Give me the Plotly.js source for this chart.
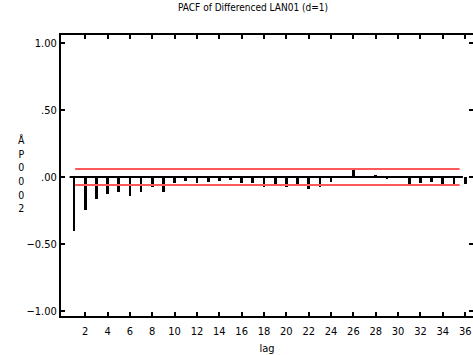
<!DOCTYPE html>
<html>
<head>
<meta charset="utf-8">
<script src="https://cdn.plot.ly/plotly-3.0.1.min.js"></script>
<style>html,body{margin:0;padding:0;background:#fff;}#chart{width:473px;height:355px;}</style>
</head>
<body>
<div id="chart"></div>
<script>
const lags = [1,2,3,4,5,6,7,8,9,10,11,12,13,14,15,16,17,18,19,20,21,22,23,24,25,26,27,28,29,30,31,32,33,34,35,36];
const pacf = [-0.40,-0.245,-0.167,-0.125,-0.115,-0.14,-0.115,-0.072,-0.115,-0.045,-0.03,-0.047,-0.04,-0.03,-0.022,-0.047,-0.047,-0.072,-0.055,-0.072,-0.055,-0.092,-0.072,-0.035,0.0,0.05,0.0,0.012,-0.017,0.0,-0.065,-0.048,-0.035,-0.067,-0.067,-0.05];
const confLimit = 0.06;
const xTickVals = [2,4,6,8,10,12,14,16,18,20,22,24,26,28,30,32,34,36];
const yTickVals = [-1,-0.5,0,0.5,1];
const yTickText = ["\u22121.00","\u22120.50",".00",".50","1.00"];
const titleText = "PACF of Differenced LAN01 (d=1)";
const yTitle = "Å<br>P<br>0<br>0<br>0<br>2";
const xTitle = "lag";

const font = "Liberation Sans Narrow, Arial Narrow, DejaVu Sans Condensed, sans-serif";
const x0 = lags[0] - 0.4, x1 = lags[lags.length-1] - 0.2;
const traces = [
  {type:'scatter', mode:'lines', x:[x0,x1], y:[0,0], line:{color:'#000',width:2}, hoverinfo:'skip'},
  {type:'bar', x:lags, y:pacf, width:0.25, marker:{color:'#000',line:{width:0}}},
  {type:'scatter', mode:'lines', x:[lags[0]+0.1, lags[lags.length-1]-0.5], y:[confLimit,confLimit], line:{color:'#ff5a5a',width:2}},
  {type:'scatter', mode:'lines', x:[lags[0]+0.1, lags[lags.length-1]-0.5], y:[-confLimit,-confLimit], line:{color:'#ff5a5a',width:2}}
];
const layout = {
  width:473, height:355,
  margin:{l:61, r:0, t:35, b:39},
  paper_bgcolor:'#fff', plot_bgcolor:'#fff',
  showlegend:false,
  font:{family:font, size:11, color:'#000'},
  title:{text:titleText, font:{family:font, size:10, color:'#000'}, x:0.535, xanchor:'center', y:0.99, yanchor:'top'},
  xaxis:{range:[-0.166,36.7], tickvals:xTickVals, ticks:'inside', ticklen:4, tickwidth:2, tickcolor:'#000',
         showline:true, linewidth:2, linecolor:'#000', mirror:'ticks', showgrid:false, zeroline:false,
         ticklabelstandoff:4,
         tickfont:{family:font,size:11}, title:{text:xTitle, font:{family:font,size:11}, standoff:7}},
  yaxis:{range:[-1.037,1.06], tickvals:yTickVals, ticktext:yTickText, ticks:'inside', ticklen:4, tickwidth:2, tickcolor:'#000',
         showline:true, linewidth:2, linecolor:'#000', mirror:'ticks', showgrid:false, zeroline:false,
         tickfont:{family:font,size:11}},
  annotations:[{text:yTitle, xref:'paper', yref:'y', x:-0.095, y:0.02, xanchor:'center', yanchor:'middle', showarrow:false,
                font:{family:font,size:10.5,color:'#000'}}],
  bargap:0
};
Plotly.newPlot('chart', traces, layout, {displayModeBar:false, staticPlot:true});
</script>
</body>
</html>
